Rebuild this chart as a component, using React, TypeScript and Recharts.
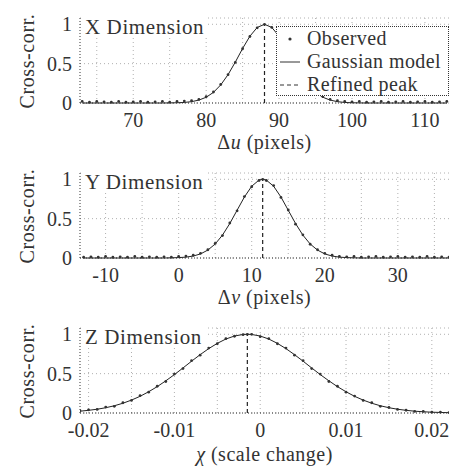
import { LineChart, Line, XAxis, YAxis, CartesianGrid, ReferenceLine } from 'recharts';
import type { ReactNode } from 'react';

// X dimension (Δu, pixels)
const uX = [63, 64, 65, 66, 67, 68, 69, 70, 71, 72, 73, 74, 75, 76, 77, 78, 79, 80, 81, 82, 83, 84, 85, 86, 87, 88, 89, 90, 91, 92, 93, 94, 95, 96, 97, 98, 99, 100, 101, 102, 103, 104, 105, 106, 107, 108, 109, 110, 111, 112, 113];
const uObserved = [0.02, 0.01, 0.02, 0.015, 0.01, 0.02, 0.01, 0.015, 0.02, 0.01, 0.015, 0.02, 0.01, 0.02, 0.025, 0.03, 0.045, 0.08, 0.14, 0.235, 0.36, 0.515, 0.69, 0.845, 0.955, 1.0, 0.96, 0.85, 0.69, 0.52, 0.36, 0.235, 0.14, 0.08, 0.045, 0.03, 0.02, 0.015, 0.02, 0.01, 0.015, 0.02, 0.01, 0.015, 0.02, 0.01, 0.015, 0.02, 0.01, 0.015, 0.02];
const uModel = [0, 0, 0, 0, 0, 0, 0, 0, 0, 0, 0, 0, 0.001, 0.003, 0.007, 0.017, 0.037, 0.073, 0.135, 0.23, 0.36, 0.52, 0.693, 0.849, 0.96, 1.0, 0.96, 0.849, 0.693, 0.52, 0.36, 0.23, 0.135, 0.073, 0.037, 0.017, 0.007, 0.003, 0.001, 0, 0, 0, 0, 0, 0, 0, 0, 0, 0, 0, 0];
const uPeak = 88;
const uTicks = [70, 80, 90, 100, 110];
const uGrid = [65, 70, 75, 80, 85, 90, 95, 100, 105, 110];

// Y dimension (Δv, pixels)
const vX = [-13, -12, -11, -10, -9, -8, -7, -6, -5, -4, -3, -2, -1, 0, 1, 2, 3, 4, 5, 6, 7, 8, 9, 10, 11, 11.5, 12, 13, 14, 15, 16, 17, 18, 19, 20, 21, 22, 23, 24, 25, 26, 27, 28, 29, 30, 31, 32, 33, 34, 35, 36, 37];
const vObserved = [0.01, 0.015, 0.01, 0.02, 0.01, 0.015, 0.01, 0.02, 0.01, 0.015, 0.01, 0.015, 0.01, 0.02, 0.025, 0.035, 0.06, 0.105, 0.185, 0.285, 0.445, 0.6, 0.78, 0.905, 0.985, 1.0, 0.985, 0.92, 0.77, 0.61, 0.43, 0.295, 0.175, 0.105, 0.06, 0.035, 0.02, 0.015, 0.02, 0.01, 0.015, 0.02, 0.01, 0.015, 0.02, 0.01, 0.015, 0.01, 0.02, 0.01, 0.015, 0.01];
const vModel = [0, 0, 0, 0, 0, 0, 0, 0, 0, 0, 0, 0, 0.002, 0.005, 0.011, 0.025, 0.052, 0.101, 0.178, 0.291, 0.438, 0.607, 0.775, 0.912, 0.99, 1.0, 0.99, 0.912, 0.775, 0.607, 0.438, 0.291, 0.178, 0.101, 0.052, 0.025, 0.011, 0.005, 0.002, 0, 0, 0, 0, 0, 0, 0, 0, 0, 0, 0, 0, 0];
const vPeak = 11.5;
const vTicks = [-10, 0, 10, 20, 30];
const vGrid = [-10, -5, 0, 5, 10, 15, 20, 25, 30, 35];

// Z dimension (χ, scale change)
const zX = [-0.021, -0.02, -0.019, -0.018, -0.017, -0.016, -0.015, -0.014, -0.013, -0.012, -0.011, -0.01, -0.009, -0.008, -0.007, -0.006, -0.005, -0.004, -0.003, -0.002, -0.0015, -0.001, 0, 0.001, 0.002, 0.003, 0.004, 0.005, 0.006, 0.007, 0.008, 0.009, 0.01, 0.011, 0.012, 0.013, 0.014, 0.015, 0.016, 0.017, 0.018, 0.019, 0.02, 0.021, 0.022];
const zObserved = [0.03, 0.04, 0.045, 0.075, 0.085, 0.13, 0.16, 0.22, 0.265, 0.34, 0.4, 0.495, 0.565, 0.665, 0.735, 0.825, 0.88, 0.945, 0.975, 0.995, 1.0, 1.0, 0.97, 0.945, 0.88, 0.825, 0.735, 0.665, 0.565, 0.495, 0.4, 0.34, 0.265, 0.215, 0.16, 0.13, 0.085, 0.07, 0.045, 0.035, 0.02, 0.02, 0.01, 0.01, 0.005];
const zModel = [0.023, 0.034, 0.048, 0.067, 0.092, 0.124, 0.164, 0.212, 0.27, 0.335, 0.409, 0.488, 0.572, 0.658, 0.741, 0.818, 0.885, 0.94, 0.978, 0.998, 1.0, 0.998, 0.978, 0.94, 0.885, 0.818, 0.741, 0.658, 0.572, 0.488, 0.409, 0.335, 0.27, 0.212, 0.164, 0.124, 0.092, 0.067, 0.048, 0.034, 0.023, 0.016, 0.01, 0.007, 0.004];
const zPeak = -0.0015;
const zTicks = [-0.02, -0.01, 0, 0.01, 0.02];
const zGrid = [-0.02, -0.015, -0.01, -0.005, 0, 0.005, 0.01, 0.015, 0.02];

const yTicks = [0, 0.5, 1];

const FONT = 'Liberation Serif, DejaVu Serif, serif';
const INK = '#333';
const GRID = '#b0b0b0';

interface PanelProps {
  xs: number[];
  observed: number[];
  model: number[];
  peak: number;
  domain: [number, number];
  ticks: number[];
  gridX: number[];
  fmt?: (v: number) => string;
  title: string;
  xLabel: ReactNode;
  height: number;
  labelTop: number;
  legend?: boolean;
}

function LegendBox() {
  const row = { display: 'flex', alignItems: 'center', height: 23 } as const;
  const icon = { width: 26, display: 'flex', justifyContent: 'center', marginRight: 4 } as const;
  return (
    <div
      style={{
        position: 'absolute', left: 276, top: 26, width: 171, height: 68,
        border: `1px dotted ${INK}`, background: '#fff', fontFamily: FONT, fontSize: 20, color: INK,
        lineHeight: '23px', letterSpacing: 0.4,
      }}
    >
      <div style={row}>
        <span style={icon}><svg width={20} height={8}><circle cx={10} cy={4} r={1.6} fill={INK} /></svg></span>
        Observed
      </div>
      <div style={row}>
        <span style={icon}><svg width={20} height={8}><line x1={0} y1={4} x2={20} y2={4} stroke={INK} strokeWidth={1} /></svg></span>
        Gaussian model
      </div>
      <div style={row}>
        <span style={icon}><svg width={20} height={8}><line x1={0} y1={4} x2={20} y2={4} stroke={INK} strokeWidth={1} strokeDasharray="4 3" /></svg></span>
        Refined peak
      </div>
    </div>
  );
}

function Panel({ xs, observed, model, peak, domain, ticks, gridX, fmt, title, xLabel, height, labelTop, legend }: PanelProps) {
  const rows = xs.map((x, i) => ({ x, observed: observed[i], model: model[i] }));
  const tickStyle = { fontSize: 20, fontFamily: FONT, fill: INK };
  return (
    <div style={{ position: 'relative', width: 454, height }}>
      <LineChart width={454} height={height} data={rows} margin={{ top: 18, right: 5, left: 0, bottom: 0 }}>
        <CartesianGrid vertical={false} stroke={GRID} strokeDasharray="1 3" />
        {gridX.map(g => (
          <ReferenceLine key={g} x={g} stroke={GRID} strokeDasharray="1 3" />
        ))}
        <XAxis
          type="number"
          dataKey="x"
          domain={domain}
          allowDataOverflow
          ticks={ticks}
          interval={0}
          tickFormatter={fmt}
          height={height - 103}
          tickLine={false}
          tickMargin={4}
          axisLine={{ stroke: INK, strokeDasharray: '1 2' }}
          tick={tickStyle}
        />
        <YAxis
          type="number"
          domain={[0, 1.08]}
          ticks={yTicks}
          width={80}
          tickLine={false}
          axisLine={{ stroke: INK, strokeDasharray: '1 2' }}
          tick={tickStyle}
        />
        <Line dataKey="model" stroke="#222" strokeWidth={1} dot={false} isAnimationActive={false} />
        <Line
          dataKey="observed"
          stroke="none"
          dot={{ r: 1.4, fill: INK, stroke: 'none' }}
          isAnimationActive={false}
        />
        <ReferenceLine
          segment={[{ x: peak, y: 0 }, { x: peak, y: 1 }]}
          stroke="#222"
          strokeWidth={1.2}
          strokeDasharray="4 3"
        />
      </LineChart>

      {/* panel title */}
      <div
        style={{
          position: 'absolute', left: 82, top: 16, padding: '0 3px', background: '#fff',
          fontFamily: FONT, fontSize: 21, lineHeight: '22px', color: INK, letterSpacing: 0.6,
        }}
      >
        {title}
      </div>

      {/* y label */}
      <div
        style={{
          position: 'absolute', left: -33, top: 50, width: 120, height: 22, lineHeight: '22px',
          textAlign: 'center', transform: 'rotate(-90deg)', fontFamily: FONT, fontSize: 20, color: INK,
          letterSpacing: 0.6,
        }}
      >
        Cross-corr.
      </div>

      {/* x label */}
      <div
        style={{
          position: 'absolute', left: 80, width: 369, top: labelTop, lineHeight: '22px',
          textAlign: 'center', fontFamily: FONT, fontSize: 20, color: INK, letterSpacing: 0.5,
        }}
      >
        {xLabel}
      </div>

      {legend && <LegendBox />}
    </div>
  );
}

const fmtZ = (v: number) => (v === 0 ? '0' : v.toFixed(2));

export default function App() {
  return (
    <div style={{ position: 'absolute', left: 0, top: 0, width: 454, height: 474, background: '#fff' }}>
      <Panel
        xs={uX}
        observed={uObserved}
        model={uModel}
        peak={uPeak}
        domain={[62.7, 113.3]}
        ticks={uTicks}
        gridX={uGrid}
        title="X Dimension"
        xLabel={<>Δ<i>u</i> (pixels)</>}
        height={155}
        labelTop={131}
        legend
      />
      <Panel
        xs={vX}
        observed={vObserved}
        model={vModel}
        peak={vPeak}
        domain={[-13.5, 37]}
        ticks={vTicks}
        gridX={vGrid}
        title="Y Dimension"
        xLabel={<>Δ<i>v</i> (pixels)</>}
        height={155}
        labelTop={131}
      />
      <Panel
        xs={zX}
        observed={zObserved}
        model={zModel}
        peak={zPeak}
        domain={[-0.021, 0.022]}
        ticks={zTicks}
        gridX={zGrid}
        fmt={fmtZ}
        title="Z Dimension"
        xLabel={<><i>χ</i> (scale change)</>}
        height={164}
        labelTop={133}
      />
    </div>
  );
}
